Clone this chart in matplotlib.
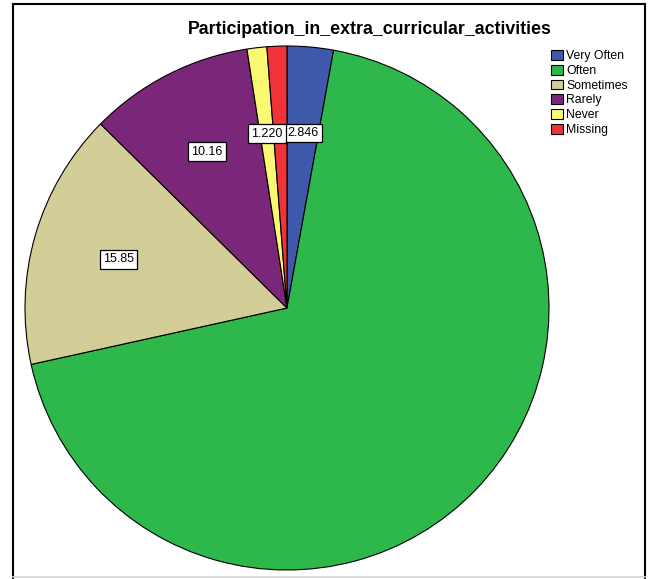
import numpy as np
import matplotlib
matplotlib.use('Agg')
import matplotlib.pyplot as plt
from matplotlib.patches import Patch
from matplotlib.lines import Line2D

plt.rcParams['font.family'] = ['Liberation Sans', 'DejaVu Sans']

# ── data ─────────────────────────────────────────────────────────────────
categories = ['Very Often', 'Often', 'Sometimes', 'Rarely', 'Never', 'Missing']
percents   = [2.846, 68.70, 15.85, 10.16, 1.220, 1.224]
shown      = ['2.846', None, '15.85', '10.16', '1.220', None]
colors     = ['#3e58ac', '#2eb84b', '#d3ce97', '#7b2779', '#fbf873', '#ef3338']

W, H = 651, 579
fig = plt.figure(figsize=(W / 100, H / 100), dpi=100)

# pie centre (287, 308) px, radius 262 px
cx, cy, r = 287, 308, 262
ax = fig.add_axes([(cx - r) / W, (H - cy - r) / H, 2 * r / W, 2 * r / H])
wedges, _ = ax.pie(percents, colors=colors, startangle=90, counterclock=False,
                   radius=1.0, wedgeprops=dict(edgecolor='black', linewidth=0.8))
ax.set_xlim(-1, 1)
ax.set_ylim(-1, 1)
ax.set_aspect('equal')
ax.axis('off')

# value boxes
for w, lab in zip(wedges, shown):
    if lab is None:
        continue
    mid = np.deg2rad((w.theta1 + w.theta2) / 2)
    ax.text(0.67 * np.cos(mid), 0.67 * np.sin(mid), lab, ha='center', va='center',
            fontsize=9,
            bbox=dict(boxstyle='square,pad=0.26', facecolor='white',
                      edgecolor='black', linewidth=0.9))

fig.text(370 / W, 1 - 30 / H, 'Participation_in_extra_curricular_activities',
         ha='center', va='center', fontsize=12.8, fontweight='bold')

handles = [Patch(facecolor=c, edgecolor='black', linewidth=0.8, label=n)
           for c, n in zip(colors, categories)]
fig.legend(handles=handles, loc='upper left', bbox_to_anchor=(551 / W, 1 - 50 / H),
           frameon=False, fontsize=8.8, handlelength=1.0, handleheight=0.85,
           handletextpad=0.25, labelspacing=0.22, borderpad=0, borderaxespad=0)

# outer frame
def px_line(x0, y0, x1, y1, color, lw):
    fig.add_artist(Line2D([x0 / W, x1 / W], [1 - y0 / H, 1 - y1 / H],
                          transform=fig.transFigure, color=color, linewidth=lw))

px_line(13, 4, 645, 4, 'black', 1.5)
px_line(13, 4, 13, 578, 'black', 1.5)
px_line(645, 4, 645, 578, 'black', 1.5)
px_line(13, 577, 645, 577, '#d4d4d4', 1.2)

fig.savefig('out.png', dpi=100)
